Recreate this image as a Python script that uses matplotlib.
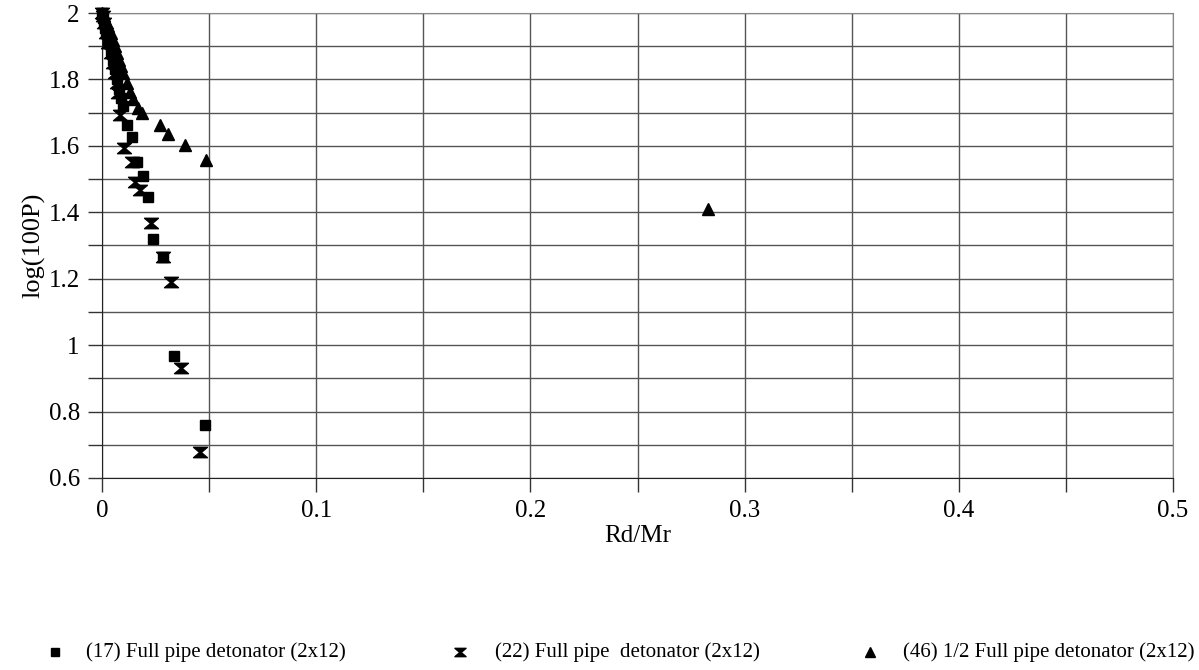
import matplotlib
matplotlib.use("Agg")
import matplotlib.pyplot as plt
from matplotlib.path import Path
from matplotlib.lines import Line2D
from matplotlib.ticker import MultipleLocator

plt.rcParams['font.family'] = ['Liberation Serif', 'DejaVu Serif']

# Series (17) Full pipe detonator (2x12) - squares
sq_x = [0.0, 0.0005, 0.001, 0.0015, 0.002, 0.003, 0.004, 0.005, 0.006, 0.007,
        0.008, 0.009, 0.010, 0.0115, 0.0141, 0.0164, 0.0192, 0.0215, 0.0236,
        0.0285, 0.0336, 0.0482]
sq_y = [2.0, 1.985, 1.97, 1.955, 1.94, 1.91, 1.885, 1.86, 1.83, 1.80,
        1.77, 1.745, 1.72, 1.663, 1.626, 1.552, 1.509, 1.447, 1.321,
        1.264, 0.967, 0.759]

# Series (22) Full pipe detonator (2x12) - hourglass
hg_x = [0.0, 0.0005, 0.001, 0.002, 0.003, 0.004, 0.005, 0.006, 0.007, 0.0075,
        0.0084, 0.0104, 0.0138, 0.0153, 0.0177, 0.0227, 0.0285, 0.032,
        0.0371, 0.0459]
hg_y = [2.0, 1.99, 1.97, 1.94, 1.91, 1.88, 1.85, 1.82, 1.79, 1.76,
        1.693, 1.594, 1.552, 1.492, 1.467, 1.367, 1.265, 1.191,
        0.930, 0.679]

# Series (46) 1/2 Full pipe detonator (2x12) - triangles
tr_x = [0.0, 0.001, 0.002, 0.003, 0.004, 0.005, 0.006, 0.007, 0.008, 0.009,
        0.010, 0.0115, 0.013, 0.0146, 0.0169, 0.0189, 0.027, 0.0308, 0.0389,
        0.0484, 0.283]
tr_y = [2.0, 1.99, 1.975, 1.96, 1.94, 1.92, 1.90, 1.88, 1.86, 1.84,
        1.82, 1.79, 1.763, 1.740, 1.715, 1.698, 1.663, 1.635, 1.602,
        1.557, 1.41]

legend_labels = ["(17) Full pipe detonator (2x12)",
                 "(22) Full pipe  detonator (2x12)",
                 "(46) 1/2 Full pipe detonator (2x12)"]

x_label = "Rd/Mr"
y_label = "log(100P)"

hourglass = Path([(-1, 0.75), (1, 0.75), (0.12, 0.0), (1, -0.75), (-1, -0.75),
                  (-0.12, 0.0), (-1, 0.75)],
                 [Path.MOVETO, Path.LINETO, Path.LINETO, Path.LINETO,
                  Path.LINETO, Path.LINETO, Path.CLOSEPOLY])

fig = plt.figure(figsize=(11.99, 6.70), dpi=100)
ax = fig.add_axes([102 / 1199, 1 - 478 / 670, (1173 - 102) / 1199, (478 - 13) / 670])

ax.set_xlim(0, 0.5)
ax.set_ylim(0.6, 2.0)
ax.xaxis.set_major_locator(MultipleLocator(0.1))
ax.xaxis.set_minor_locator(MultipleLocator(0.05))
ax.yaxis.set_major_locator(MultipleLocator(0.2))
ax.yaxis.set_minor_locator(MultipleLocator(0.1))
ax.grid(which='both', color='#555555', linewidth=1.0)
ax.set_axisbelow(True)

ax.xaxis.set_major_formatter(plt.FuncFormatter(lambda v, p: f"{v:g}"))
ax.yaxis.set_major_formatter(plt.FuncFormatter(lambda v, p: f"{v:g}"))
ax.tick_params(axis='both', which='both', direction='out', length=10, width=1,
               color='#333333', labelsize=18)
ax.tick_params(axis='x', which='major', pad=6)
ax.tick_params(axis='y', which='major', pad=6)
for s in ['top', 'right']:
    ax.spines[s].set_color('#888888')
for s in ['left', 'bottom']:
    ax.spines[s].set_color('#222222')

ax.set_xlabel(x_label, fontsize=18, labelpad=2)
ax.set_ylabel(y_label, fontsize=19, labelpad=2)

ax.plot(sq_x, sq_y, linestyle='none', marker='s', markersize=7, color='black',
        clip_on=False, zorder=3)
ax.plot(hg_x, hg_y, linestyle='none', marker=hourglass, markersize=10,
        color='black', clip_on=False, zorder=3)
ax.plot(tr_x, tr_y, linestyle='none', marker='^', markersize=8, color='black',
        clip_on=False, zorder=3)

# legend row
leg_y = 1 - 652 / 670
markers = ['s', hourglass, '^']
msizes = [6, 8, 7]
mx = [55, 460, 870]
tx = [86, 495, 903]
for m, ms, x0, x1, lab in zip(markers, msizes, mx, tx, legend_labels):
    fig.add_artist(Line2D([x0 / 1199], [leg_y], marker=m, markersize=ms,
                          color='black', linestyle='none',
                          transform=fig.transFigure))
    fig.text(x1 / 1199, leg_y, lab, fontsize=15, va='center', ha='left')

fig.savefig("out.png", dpi=100)
